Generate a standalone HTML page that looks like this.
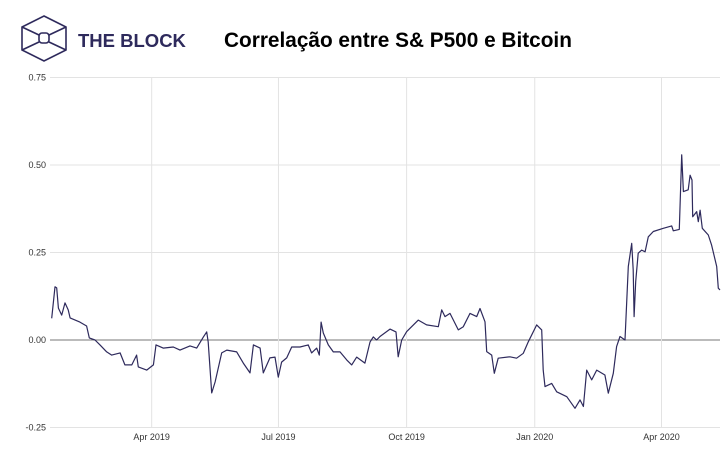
<!DOCTYPE html>
<html><head><meta charset="utf-8"><style>
body{margin:0;width:723px;height:457px;background:#fff;overflow:hidden;font-family:"Liberation Sans",sans-serif}
</style></head><body>
<svg width="723" height="457" viewBox="0 0 723 457" xmlns="http://www.w3.org/2000/svg">
<g fill="none" stroke="#2e2a5c" stroke-width="1.6">
<polygon points="44,16 66,27 66,50 44,61 22,50 22,27"/>
<line x1="22" y1="27" x2="39" y2="35"/><line x1="66" y1="27" x2="49" y2="35"/>
<line x1="22" y1="50" x2="39" y2="42"/><line x1="66" y1="50" x2="49" y2="42"/>
<rect x="39" y="33" width="10" height="10" rx="3"/>
</g>
<text x="78" y="47" font-size="18.5" font-weight="bold" fill="#2e2a5c">THE BLOCK</text>
<text x="224" y="47" font-size="20.8" font-weight="bold" fill="#000">Correlação entre S&amp; P500 e Bitcoin</text>
<g id="grid"></g><g id="axes"></g><g id="series"></g>
</svg>
<script>
const tickDays=[73,164,256,348,439];
const tickLabels=["Apr 2019","Jul 2019","Oct 2019","Jan 2020","Apr 2020"];
const yTicks=[0.75,0.5,0.25,0,-0.25];
const yTickLabels=["0.75","0.50","0.25","0.00","-0.25"];
const days=[1.2,3.6,4.8,6.0,8.4,10.8,13.1,14.4,21.5,26.3,28.2,32.3,35.9,40.7,44.3,50.3,53.8,58.7,62.2,63.4,69.4,74.2,76.1,81.3,88.5,93.3,100.5,105.3,110.1,112.5,113.6,116.1,118.5,123.3,126.9,134.0,138.8,143.6,146.0,150.8,153.1,157.9,161.5,163.9,166.3,169.9,173.5,179.5,185.4,187.8,191.5,193.3,194.6,196.2,199.8,203.4,208.2,213.0,216.6,220.2,226.1,229.7,232.1,234.5,236.9,244.1,248.4,250.0,252.5,256.1,264.4,270.4,278.8,281.2,283.6,287.2,293.1,296.7,301.5,306.3,308.7,312.3,313.5,317.1,319.0,321.8,330.2,335.0,339.8,343.4,349.4,353.0,354.1,355.4,360.2,363.8,371.0,376.9,380.5,382.9,385.3,388.9,392.5,398.4,400.8,404.4,406.8,409.2,412.8,415.2,417.6,418.7,419.3,420.5,422.3,424.8,427.2,429.5,433.1,440.3,446.3,447.5,451.8,453.5,454.7,458.2,459.5,460.9,461.4,464.3,465.4,466.7,468.3,472.6,475.0,478.6,479.8,481.0];
const values=[0.062,0.152,0.149,0.091,0.071,0.106,0.086,0.063,0.051,0.04,0.006,0,-0.014,-0.034,-0.043,-0.037,-0.071,-0.071,-0.043,-0.077,-0.086,-0.071,-0.014,-0.023,-0.02,-0.029,-0.017,-0.023,0.009,0.023,-0.006,-0.151,-0.12,-0.037,-0.029,-0.034,-0.066,-0.094,-0.014,-0.023,-0.094,-0.051,-0.049,-0.106,-0.063,-0.051,-0.02,-0.02,-0.014,-0.037,-0.023,-0.043,0.051,0.02,-0.014,-0.034,-0.034,-0.057,-0.071,-0.049,-0.066,-0.006,0.009,0,0.01,0.031,0.023,-0.048,0,0.024,0.057,0.043,0.038,0.086,0.067,0.076,0.029,0.038,0.076,0.067,0.09,0.052,-0.033,-0.043,-0.095,-0.052,-0.048,-0.052,-0.038,-0.005,0.043,0.029,-0.086,-0.133,-0.124,-0.148,-0.162,-0.195,-0.171,-0.19,-0.086,-0.114,-0.086,-0.1,-0.152,-0.095,-0.019,0.01,0,0.21,0.276,0.2,0.067,0.167,0.248,0.257,0.252,0.295,0.31,0.319,0.326,0.312,0.316,0.529,0.424,0.429,0.471,0.457,0.352,0.367,0.338,0.371,0.319,0.3,0.271,0.21,0.148,0.143];
const NS="http://www.w3.org/2000/svg";
const X0=50,X1=720,D0=0,D1=481,Y0=340,YS=350;
function xs(d){return X0+(d-D0)*(X1-X0)/(D1-D0);}
function ys(v){return Y0-v*YS;}
function mk(t,a,p){const e=document.createElementNS(NS,t);for(const k in a)e.setAttribute(k,a[k]);p.appendChild(e);return e;}
const grid=document.getElementById('grid'),axes=document.getElementById('axes'),series=document.getElementById('series');
yTicks.forEach((v,i)=>{
 const l=mk('line',{x1:50,x2:720,y1:ys(v),y2:ys(v),stroke:v===0?'#777':'#e3e3e3','stroke-width':1},grid);
 
 
 const t=mk('text',{x:46,y:ys(v)+3,'font-size':9,fill:'#333','text-anchor':'end'},axes);
 t.textContent=yTickLabels[i];
 
 
});
tickDays.forEach((d,i)=>{
 const l=mk('line',{x1:xs(d),x2:xs(d),y1:ys(0.75),y2:ys(-0.25),stroke:'#e3e3e3','stroke-width':1},grid);
 
 
 const t=mk('text',{x:xs(d),y:440,'font-size':9,fill:'#333','text-anchor':'middle'},axes);
 t.textContent=tickLabels[i];
 
 
});
const p=mk('polyline',{points:days.map((d,i)=>xs(d).toFixed(1)+','+ys(values[i]).toFixed(1)).join(' '),fill:'none',stroke:'#2e2a5c','stroke-width':1.2,'stroke-linejoin':'round'},series);


</script>
</body></html>
